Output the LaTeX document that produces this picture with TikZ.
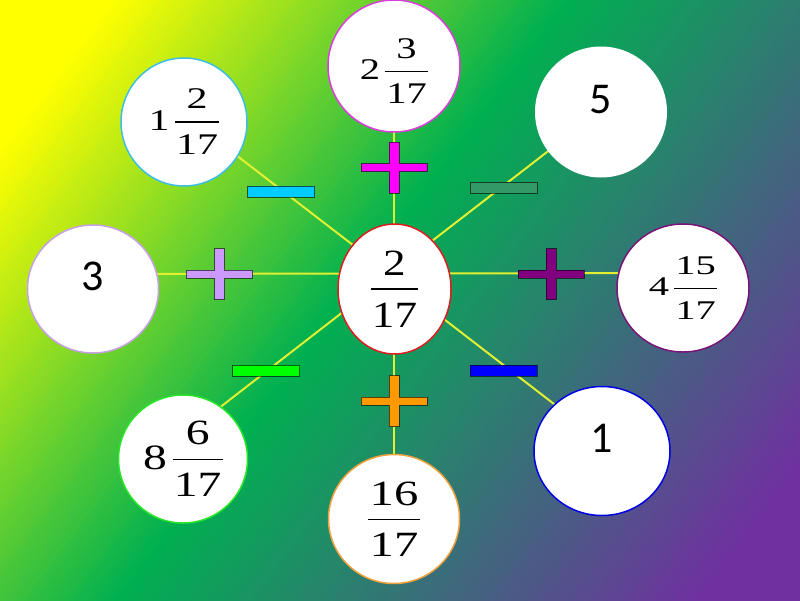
\documentclass[tikz,border=0pt]{standalone}
\usepackage{fontspec}
\usepackage{graphicx}
\setmainfont{Liberation Serif}
\newfontfamily\numfont{Carlito}
\usetikzlibrary{shapes.geometric,calc}
\definecolor{cyellow}{RGB}{255,255,0}
\definecolor{cgreen}{RGB}{0,176,80}
\definecolor{cpurple}{RGB}{112,48,160}
\definecolor{spoke}{RGB}{225,240,50}
\definecolor{bMag}{RGB}{220,60,220}
\definecolor{bCyan}{RGB}{60,190,230}
\definecolor{bLav}{RGB}{200,160,230}
\definecolor{bPur}{RGB}{120,20,120}
\definecolor{bGreen}{RGB}{40,230,40}
\definecolor{bOrange}{RGB}{240,160,60}
\definecolor{bBlue}{RGB}{0,0,230}
\definecolor{bRed}{RGB}{220,30,30}
\definecolor{oMag}{RGB}{255,0,255}
\definecolor{oCyan}{RGB}{0,204,255}
\definecolor{oDkGreen}{RGB}{51,153,102}
\definecolor{oLav}{RGB}{204,153,255}
\definecolor{oPur}{RGB}{128,0,128}
\definecolor{oGreen}{RGB}{0,255,0}
\definecolor{oOrange}{RGB}{255,153,0}
\definecolor{oBlue}{RGB}{0,0,255}
\newbox\frboxA
\newbox\frboxB
\newdimen\frW
\newdimen\frR
\newcommand\myfr[3]{\begingroup
  \setbox\frboxA\hbox{#2}\setbox\frboxB\hbox{#3}%
  \frW=\wd\frboxA \ifdim\wd\frboxB>\frW \frW=\wd\frboxB\fi
  \advance\frW by 0.06em
  \frR=\dimexpr0.28em-\ht\frboxB-#1-0.6pt\relax
  \raisebox{\frR}{\vbox{\offinterlineskip
    \hbox to\frW{\hss\box\frboxA\hss}\kern#1
    \hrule height 1.2pt\kern#1
    \hbox to\frW{\hss\box\frboxB\hss}}}%
  \endgroup}
\newcommand\mymix[4]{#1\kern0.12em\myfr{#2}{#3}{#4}}
\tikzset{
  circ/.style={ellipse, fill=white, line width=1.5pt, inner sep=0pt},
  numtext/.style={font=\numfont\fontsize{44}{50}\selectfont, text height=28pt, text depth=26pt},
  spokeline/.style={draw=spoke, line width=2pt},
  minusop/.style={rectangle, draw=black, draw opacity=0.6, line width=1pt, minimum width=67pt, minimum height=11pt, inner sep=0pt},
  plusop/.pic={\path[pic actions] (-33,-4) -- (-5,-4) -- (-5,-25.5) -- (5,-25.5) -- (5,-4) -- (33,-4) -- (33,4) -- (5,4) -- (5,25.5) -- (-5,25.5) -- (-5,4) -- (-33,4) -- cycle;},
  plusstyle/.style={draw=black, draw opacity=0.6, line width=1pt}
}
\begin{document}
\begin{tikzpicture}[x=1pt,y=-1pt]
\useasboundingbox (0,0) rectangle (800,600);
% background gradient
\begin{scope}
\clip (0,0) rectangle (800,600);
\foreach \i in {0,...,249}{
  \pgfmathsetmacro\ta{4*\i}
  \pgfmathsetmacro\tb{4*\i+4.8}
  \pgfmathtruncatemacro\pa{max(0,min(100,(4*\i+2-90)/3.6))}
  \pgfmathtruncatemacro\pb{max(0,min(100,(4*\i+2-450)/4.7))}
  \colorlet{mixA}{cgreen!\pa!cyellow}
  \colorlet{mixB}{cpurple!\pb!mixA}
  \fill[mixB] ({0.8*\ta-600},{0.6*\ta+800}) -- ({0.8*\ta+600},{0.6*\ta-800}) -- ({0.8*\tb+600},{0.6*\tb-800}) -- ({0.8*\tb-600},{0.6*\tb+800}) -- cycle;
}
\end{scope}
% node positions
\coordinate (pc) at (394.5,289);
\coordinate (pt) at (394,66);
\coordinate (ptl) at (184,122);
\coordinate (ptr) at (601,112);
\coordinate (pl) at (93,289);
\coordinate (pr) at (683,288);
\coordinate (pbl) at (183,459);
\coordinate (pb) at (394,519);
\coordinate (pbr) at (602,451);
% spokes
\draw[spokeline] ($(pl)+(0,-15)$) -- ($(pr)+(0,-15)$);
\draw[spokeline] (pt) -- (pb);
\draw[spokeline] ($(pc)+(0,-12)$) -- ($(ptl)+(0,-7)$);
\draw[spokeline] ($(pc)+(0,-19)$) -- ($(ptr)+(-1,-1)$);
\draw[spokeline] ($(pc)+(0,-8)$) -- ($(pbr)+(0,-10)$);
\draw[spokeline] ($(pc)+(0,-17)$) -- ($(pbl)+(0,-23)$);
% circles
\node[circ, draw=bMag, minimum width=132pt, minimum height=132pt, font=\fontsize{30}{36}\selectfont] (t) at (pt) {\raisebox{-5pt}[\height][\depth]{\scalebox{1.35}[1]{\mymix{2}{12pt}{3}{17}}}};
\node[circ, draw=bCyan, minimum width=126pt, minimum height=128pt, font=\fontsize{30}{36}\selectfont] (tl) at (ptl) {\scalebox{1.4}[1]{\mymix{1}{12.5pt}{2}{17}}};
\node[circ, draw=none, minimum width=132pt, minimum height=131pt, numtext] (tr) at (ptr) {5};
\node[circ, draw=bLav, minimum width=131pt, minimum height=128pt, numtext] (l) at (pl) {3};
\node[circ, draw=bPur, minimum width=132pt, minimum height=128pt, font=\fontsize{27}{32}\selectfont] (r) at (pr) {\scalebox{1.5}[1]{\mymix{4}{12.5pt}{15}{17}}};
\node[circ, draw=bGreen, minimum width=129pt, minimum height=128pt, font=\fontsize{35.5}{42}\selectfont] (bl) at (pbl) {\scalebox{1.34}[1]{\mymix{8}{13.5pt}{6}{17}}};
\node[circ, draw=bOrange, minimum width=131pt, minimum height=129pt, font=\fontsize{35.5}{42}\selectfont] (b) at (pb) {\scalebox{1.37}[1]{\myfr{13pt}{16}{17}}};
\node[circ, draw=bBlue, minimum width=136pt, minimum height=129pt, numtext] (br) at (pbr) {1};
\node[circ, draw=bRed, minimum width=113pt, minimum height=130pt, font=\fontsize{37}{44}\selectfont] (c) at (pc) {\scalebox{1.22}[1]{\myfr{13pt}{2}{17}}};
% operators
\pic[plusstyle, fill=oMag] (opT) at (394,167.5) {plusop};
\pic[plusstyle, fill=oPur] (opR) at (551,274) {plusop};
\pic[plusstyle, fill=oOrange] (opB) at (394,401) {plusop};
\pic[plusstyle, fill=oLav] (opL) at (219.5,274) {plusop};
\node[minusop, fill=oCyan] (opTL) at (281,191.5) {};
\node[minusop, fill=oDkGreen] (opTR) at (503.5,187.5) {};
\node[minusop, fill=oGreen] (opBL) at (266,370.5) {};
\node[minusop, fill=oBlue] (opBR) at (503.5,370.5) {};
\end{tikzpicture}
\end{document}
